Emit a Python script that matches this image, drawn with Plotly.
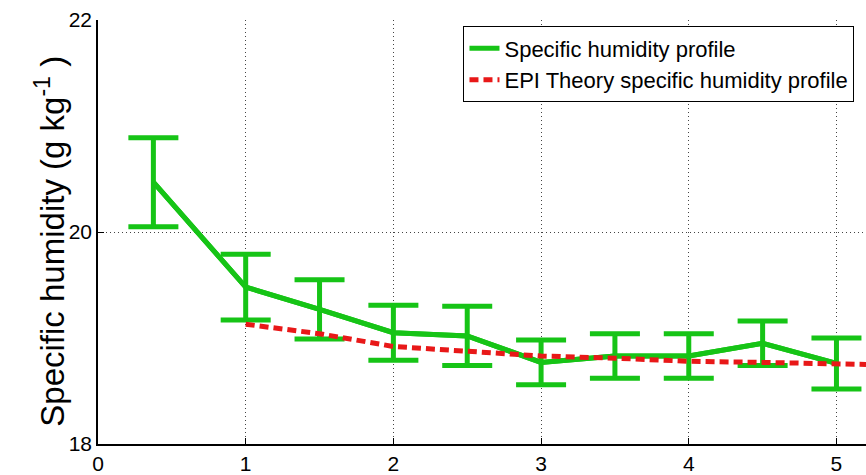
import plotly.graph_objects as go

# Data
x_obs = [0.375, 1.0, 1.5, 2.0, 2.5, 3.0, 3.5, 4.0, 4.5, 5.0]
q_obs = [20.47, 19.48, 19.27, 19.05, 19.02, 18.77, 18.83, 18.83, 18.95, 18.76]
q_err = [0.42, 0.31, 0.28, 0.26, 0.28, 0.21, 0.21, 0.21, 0.21, 0.24]

x_epi = [1.0, 1.5, 2.0, 2.5, 3.0, 3.5, 4.0, 4.5, 5.0, 5.2]
q_epi = [19.13, 19.04, 18.92, 18.88, 18.83, 18.81, 18.78, 18.77, 18.76, 18.75]

x_ticks = [0, 1, 2, 3, 4, 5]
y_ticks = [18, 20, 22]
y_title = "Specific humidity (g kg<sup>-1</sup> )"

GREEN = "#16c416"
RED = "#e81818"
FONT = "Liberation Sans, Arial, sans-serif"

fig = go.Figure()

fig.add_trace(go.Scatter(
    x=x_obs, y=q_obs, mode="lines",
    line=dict(color=GREEN, width=5),
    error_y=dict(type="data", array=q_err, visible=True,
                 color=GREEN, thickness=5, width=25),
    showlegend=False, hoverinfo="skip",
))
fig.add_trace(go.Scatter(
    x=x_obs, y=q_obs, mode="lines",
    line=dict(color=GREEN, width=5),
    name="Specific humidity profile",
))
fig.add_trace(go.Scatter(
    x=x_epi, y=q_epi, mode="lines",
    line=dict(color=RED, width=5, dash="9px,5px"),
    name="EPI Theory specific humidity profile",
))

fig.update_layout(
    width=866, height=475,
    margin=dict(l=98, r=0, t=20, b=26),
    paper_bgcolor="white", plot_bgcolor="white",
    font=dict(family=FONT, size=21, color="black"),
    legend=dict(
        x=0.985, y=0.985, xanchor="right", yanchor="top",
        bgcolor="white", bordercolor="black", borderwidth=1,
        font=dict(size=22), tracegroupgap=0, itemwidth=30,
    ),
    annotations=[dict(
        text=y_title, textangle=-90, showarrow=False,
        xref="paper", yref="paper", x=-0.062, y=0.478,
        xanchor="center", yanchor="middle",
        font=dict(size=33, family=FONT, color="black"),
    )],
)
fig.update_xaxes(
    range=[0, 5.2], tickvals=x_ticks, ticktext=[str(t) for t in x_ticks],
    showline=True, linecolor="black", linewidth=1.5,
    ticks="inside", ticklen=6, tickcolor="black",
    showgrid=True, gridcolor="#444444", griddash="1px,3px", gridwidth=1,
    zeroline=False, mirror=False,
)
fig.update_yaxes(
    range=[18, 22], tickvals=y_ticks, ticktext=[str(t) for t in y_ticks],
    showline=True, linecolor="black", linewidth=1.5,
    ticks="inside", ticklen=6, tickcolor="black",
    showgrid=True, gridcolor="#444444", griddash="1px,3px", gridwidth=1,
    zeroline=False, mirror=False,
)

fig.write_html("out.html")
